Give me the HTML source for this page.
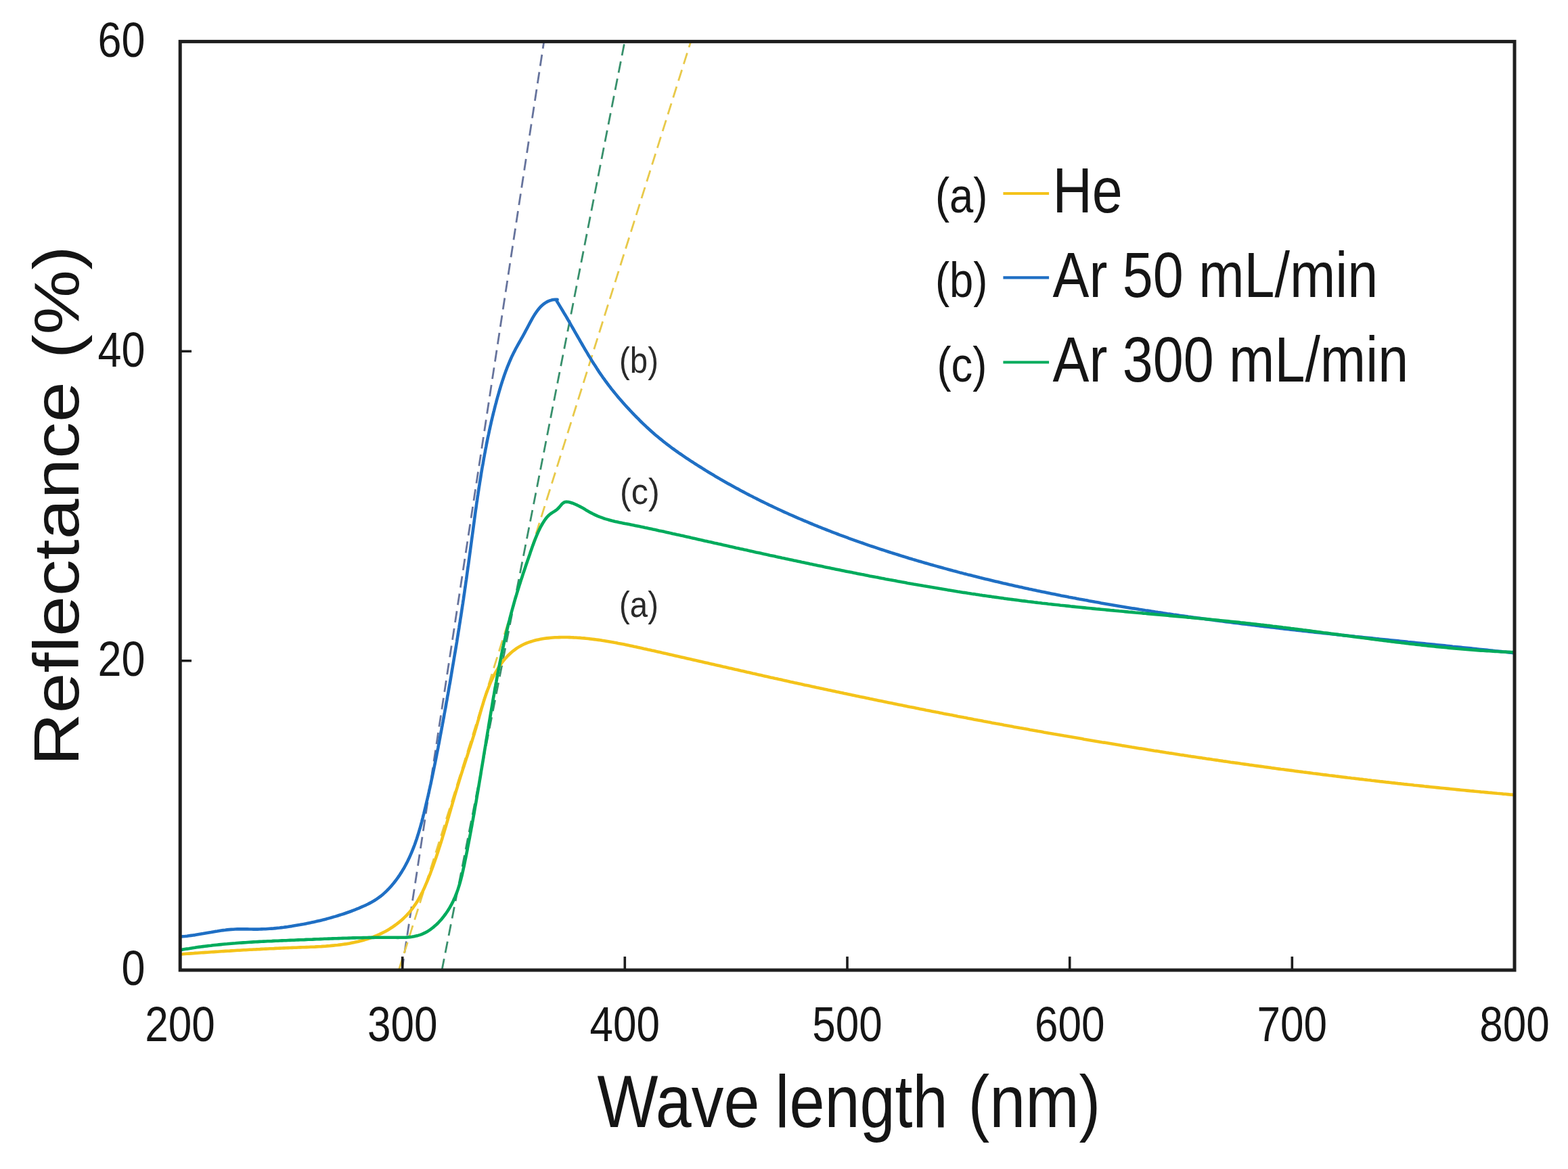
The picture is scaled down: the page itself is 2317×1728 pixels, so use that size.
<!DOCTYPE html>
<html><head><meta charset="utf-8"><title>Reflectance vs Wave length</title><style>html,body{margin:0;padding:0;background:#fff;}body{width:2317px;height:1728px;overflow:hidden;}svg{display:block;filter:blur(0.45px);}</style></head><body>
<svg width="2317" height="1728" viewBox="0 0 2317 1728" font-family="'Liberation Sans', Arial, sans-serif"><defs><clipPath id="pc"><rect x="266" y="62" width="1972" height="1372"/></clipPath></defs><rect x="0" y="0" width="2317" height="1728" fill="#ffffff"/><g clip-path="url(#pc)" stroke-width="2.8" fill="none" stroke-dasharray="17 9"><line x1="593.9" y1="1434" x2="803.7" y2="62" stroke="#66739c"/><line x1="653.0" y1="1434" x2="923.0" y2="62" stroke="#38906c"/><line x1="589.3" y1="1434" x2="1020.6" y2="62" stroke="#e8c94a"/></g><g fill="none" stroke-width="4.6" stroke-linejoin="round" stroke-linecap="round"><path d="M267.1,1410.5 L270.1,1410.3 L273.2,1410.0 L276.3,1409.8 L279.3,1409.6 L282.4,1409.4 L285.4,1409.2 L288.4,1408.9 L291.5,1408.7 L294.5,1408.5 L297.5,1408.3 L300.5,1408.1 L303.5,1407.9 L306.5,1407.7 L309.5,1407.5 L312.5,1407.3 L315.5,1407.1 L318.5,1406.9 L321.5,1406.7 L324.4,1406.5 L327.4,1406.3 L330.4,1406.1 L333.4,1405.9 L336.3,1405.7 L339.3,1405.6 L342.3,1405.4 L345.2,1405.2 L348.2,1405.0 L351.2,1404.8 L354.1,1404.7 L357.1,1404.5 L360.1,1404.3 L363.0,1404.2 L366.0,1404.0 L369.0,1403.8 L371.9,1403.7 L374.9,1403.5 L377.9,1403.4 L380.8,1403.2 L383.8,1403.1 L386.8,1402.9 L389.7,1402.8 L392.7,1402.6 L395.7,1402.5 L398.7,1402.3 L401.6,1402.2 L404.6,1402.1 L407.6,1401.9 L410.6,1401.8 L413.6,1401.6 L416.6,1401.5 L419.6,1401.4 L422.6,1401.3 L425.6,1401.1 L428.6,1401.0 L431.7,1400.9 L434.7,1400.8 L437.7,1400.7 L440.8,1400.5 L443.8,1400.4 L446.9,1400.3 L449.9,1400.2 L453.0,1400.1 L456.0,1400.0 L459.1,1399.8 L462.1,1399.7 L465.2,1399.6 L468.3,1399.4 L471.3,1399.2 L474.4,1399.1 L477.5,1398.9 L480.5,1398.7 L483.6,1398.4 L486.6,1398.2 L489.7,1397.9 L492.7,1397.6 L495.7,1397.3 L498.8,1397.0 L501.8,1396.6 L504.8,1396.2 L507.8,1395.8 L510.8,1395.4 L513.8,1394.9 L516.7,1394.4 L519.7,1393.8 L522.6,1393.2 L525.6,1392.6 L528.5,1392.0 L531.4,1391.2 L534.3,1390.5 L537.2,1389.7 L540.0,1388.9 L542.8,1388.0 L545.7,1387.1 L548.5,1386.1 L551.3,1385.1 L554.0,1384.0 L556.8,1382.9 L559.5,1381.7 L562.2,1380.4 L564.9,1379.1 L567.5,1377.8 L570.1,1376.4 L572.7,1374.9 L575.3,1373.4 L577.8,1371.8 L580.3,1370.2 L582.7,1368.5 L585.2,1366.7 L587.5,1364.9 L589.9,1363.1 L592.1,1361.2 L594.4,1359.2 L596.6,1357.2 L598.7,1355.2 L600.8,1353.1 L602.8,1350.9 L604.8,1348.7 L606.7,1346.4 L608.5,1344.1 L610.3,1341.8 L612.0,1339.3 L613.7,1336.9 L615.3,1334.4 L616.9,1331.9 L618.4,1329.3 L619.9,1326.7 L621.3,1324.1 L622.7,1321.4 L624.1,1318.7 L625.4,1316.0 L626.7,1313.2 L627.9,1310.5 L629.1,1307.7 L630.3,1304.9 L631.5,1302.1 L632.6,1299.3 L633.8,1296.4 L634.9,1293.6 L636.0,1290.8 L637.0,1287.9 L638.1,1285.1 L639.2,1282.2 L640.2,1279.4 L641.2,1276.5 L642.2,1273.7 L643.2,1270.8 L644.2,1268.0 L645.2,1265.1 L646.1,1262.2 L647.1,1259.4 L648.0,1256.5 L648.9,1253.6 L649.9,1250.7 L650.8,1247.9 L651.7,1245.0 L652.6,1242.1 L653.5,1239.2 L654.3,1236.3 L655.2,1233.5 L656.1,1230.6 L656.9,1227.7 L657.8,1224.8 L658.7,1221.9 L659.5,1219.1 L660.3,1216.2 L661.2,1213.3 L662.0,1210.4 L662.9,1207.5 L663.7,1204.6 L664.5,1201.8 L665.4,1198.9 L666.2,1196.0 L667.0,1193.1 L667.9,1190.2 L668.7,1187.4 L669.5,1184.5 L670.4,1181.6 L671.2,1178.8 L672.0,1175.9 L672.9,1173.0 L673.7,1170.2 L674.6,1167.3 L675.5,1164.4 L676.3,1161.6 L677.2,1158.7 L678.1,1155.9 L678.9,1153.0 L679.8,1150.2 L680.7,1147.4 L681.6,1144.5 L682.5,1141.7 L683.4,1138.8 L684.3,1136.0 L685.3,1133.2 L686.2,1130.3 L687.1,1127.5 L688.0,1124.7 L688.9,1121.8 L689.9,1119.0 L690.8,1116.2 L691.7,1113.3 L692.6,1110.5 L693.5,1107.6 L694.5,1104.8 L695.4,1101.9 L696.3,1099.1 L697.2,1096.2 L698.1,1093.3 L699.0,1090.4 L699.9,1087.6 L700.8,1084.7 L701.6,1081.8 L702.5,1078.9 L703.4,1076.0 L704.2,1073.0 L705.1,1070.1 L705.9,1067.2 L706.8,1064.2 L707.6,1061.3 L708.4,1058.3 L709.3,1055.4 L710.1,1052.4 L711.0,1049.5 L711.8,1046.5 L712.7,1043.6 L713.6,1040.7 L714.5,1037.7 L715.4,1034.8 L716.3,1031.9 L717.3,1029.0 L718.3,1026.1 L719.3,1023.3 L720.3,1020.4 L721.4,1017.6 L722.5,1014.8 L723.6,1012.0 L724.8,1009.2 L726.0,1006.4 L727.3,1003.7 L728.6,1001.0 L729.9,998.4 L731.3,995.7 L732.8,993.1 L734.3,990.6 L735.9,988.0 L737.5,985.5 L739.1,983.1 L740.8,980.7 L742.6,978.3 L744.4,976.1 L746.3,973.8 L748.2,971.7 L750.2,969.5 L752.3,967.5 L754.4,965.5 L756.5,963.6 L758.8,961.8 L761.1,960.1 L763.4,958.4 L765.8,956.9 L768.3,955.4 L770.8,954.0 L773.4,952.7 L776.0,951.5 L778.7,950.4 L781.5,949.4 L784.3,948.5 L787.1,947.6 L790.0,946.8 L792.9,946.1 L795.8,945.4 L798.8,944.8 L801.8,944.3 L804.8,943.8 L807.9,943.4 L810.9,943.1 L814.0,942.8 L817.0,942.5 L820.1,942.3 L823.2,942.2 L826.3,942.1 L829.4,942.0 L832.5,942.0 L835.5,942.0 L838.6,942.0 L841.7,942.1 L844.8,942.2 L847.8,942.4 L850.9,942.5 L853.9,942.7 L857.0,942.9 L860.0,943.2 L863.1,943.4 L866.1,943.7 L869.1,944.0 L872.1,944.4 L875.1,944.7 L878.1,945.1 L881.1,945.5 L884.1,945.9 L887.1,946.3 L890.0,946.8 L893.0,947.2 L896.0,947.7 L898.9,948.2 L901.9,948.7 L904.8,949.2 L907.8,949.8 L910.7,950.3 L913.6,950.9 L916.6,951.4 L919.5,952.0 L922.4,952.6 L925.4,953.2 L928.3,953.8 L931.2,954.4 L934.1,955.0 L937.1,955.7 L940.0,956.3 L942.9,956.9 L945.8,957.6 L948.7,958.2 L951.7,958.9 L954.6,959.5 L957.5,960.2 L960.4,960.8 L963.3,961.5 L966.2,962.1 L969.2,962.8 L972.1,963.4 L975.0,964.1 L977.9,964.8 L980.8,965.4 L983.8,966.1 L986.7,966.7 L989.6,967.4 L992.5,968.1 L995.4,968.7 L998.4,969.4 L1001.3,970.1 L1004.2,970.7 L1007.1,971.4 L1010.1,972.1 L1013.0,972.7 L1015.9,973.4 L1018.8,974.1 L1021.8,974.7 L1024.7,975.4 L1027.6,976.1 L1030.5,976.7 L1033.5,977.4 L1036.4,978.1 L1039.3,978.7 L1042.2,979.4 L1045.2,980.1 L1048.1,980.8 L1051.0,981.4 L1053.9,982.1 L1056.9,982.8 L1059.8,983.4 L1062.7,984.1 L1065.7,984.8 L1068.6,985.5 L1071.5,986.1 L1074.4,986.8 L1077.4,987.5 L1080.3,988.1 L1083.2,988.8 L1086.2,989.5 L1089.1,990.1 L1092.0,990.8 L1095.0,991.5 L1097.9,992.1 L1100.8,992.8 L1103.7,993.5 L1106.7,994.1 L1109.6,994.8 L1112.5,995.5 L1115.5,996.1 L1118.4,996.8 L1121.3,997.4 L1124.3,998.1 L1127.2,998.8 L1130.1,999.4 L1133.1,1000.1 L1136.0,1000.7 L1138.9,1001.4 L1141.9,1002.0 L1144.8,1002.7 L1147.7,1003.3 L1150.7,1004.0 L1153.6,1004.6 L1156.5,1005.3 L1159.5,1005.9 L1162.4,1006.6 L1165.4,1007.2 L1168.3,1007.9 L1171.2,1008.5 L1174.2,1009.2 L1177.1,1009.8 L1180.0,1010.4 L1183.0,1011.1 L1185.9,1011.7 L1188.8,1012.4 L1191.8,1013.0 L1194.7,1013.6 L1197.7,1014.3 L1200.6,1014.9 L1203.5,1015.5 L1206.5,1016.2 L1209.4,1016.8 L1212.3,1017.4 L1215.3,1018.1 L1218.2,1018.7 L1221.2,1019.3 L1224.1,1020.0 L1227.0,1020.6 L1230.0,1021.2 L1232.9,1021.8 L1235.9,1022.5 L1238.8,1023.1 L1241.7,1023.7 L1244.7,1024.3 L1247.6,1025.0 L1250.6,1025.6 L1253.5,1026.2 L1256.4,1026.8 L1259.4,1027.4 L1262.3,1028.1 L1265.3,1028.7 L1268.2,1029.3 L1271.2,1029.9 L1274.1,1030.5 L1277.0,1031.1 L1280.0,1031.7 L1282.9,1032.3 L1285.9,1033.0 L1288.8,1033.6 L1291.8,1034.2 L1294.7,1034.8 L1297.6,1035.4 L1300.6,1036.0 L1303.5,1036.6 L1306.5,1037.2 L1309.4,1037.8 L1312.4,1038.4 L1315.3,1039.0 L1318.3,1039.6 L1321.2,1040.2 L1324.1,1040.8 L1327.1,1041.4 L1330.0,1042.0 L1333.0,1042.6 L1335.9,1043.2 L1338.9,1043.8 L1341.8,1044.4 L1344.8,1045.0 L1347.7,1045.5 L1350.7,1046.1 L1353.6,1046.7 L1356.6,1047.3 L1359.5,1047.9 L1362.5,1048.5 L1365.4,1049.1 L1368.4,1049.7 L1371.3,1050.2 L1374.2,1050.8 L1377.2,1051.4 L1380.1,1052.0 L1383.1,1052.6 L1386.0,1053.1 L1389.0,1053.7 L1391.9,1054.3 L1394.9,1054.9 L1397.8,1055.4 L1400.8,1056.0 L1403.7,1056.6 L1406.7,1057.1 L1409.6,1057.7 L1412.6,1058.3 L1415.5,1058.9 L1418.5,1059.4 L1421.5,1060.0 L1424.4,1060.6 L1427.4,1061.1 L1430.3,1061.7 L1433.3,1062.2 L1436.2,1062.8 L1439.2,1063.4 L1442.1,1063.9 L1445.1,1064.5 L1448.0,1065.0 L1451.0,1065.6 L1453.9,1066.2 L1456.9,1066.7 L1459.8,1067.3 L1462.8,1067.8 L1465.7,1068.4 L1468.7,1068.9 L1471.7,1069.5 L1474.6,1070.0 L1477.6,1070.6 L1480.5,1071.1 L1483.5,1071.7 L1486.4,1072.2 L1489.4,1072.7 L1492.3,1073.3 L1495.3,1073.8 L1498.3,1074.4 L1501.2,1074.9 L1504.2,1075.4 L1507.1,1076.0 L1510.1,1076.5 L1513.0,1077.1 L1516.0,1077.6 L1519.0,1078.1 L1521.9,1078.7 L1524.9,1079.2 L1527.8,1079.7 L1530.8,1080.2 L1533.7,1080.8 L1536.7,1081.3 L1539.7,1081.8 L1542.6,1082.4 L1545.6,1082.9 L1548.5,1083.4 L1551.5,1083.9 L1554.5,1084.4 L1557.4,1085.0 L1560.4,1085.5 L1563.3,1086.0 L1566.3,1086.5 L1569.3,1087.0 L1572.2,1087.6 L1575.2,1088.1 L1578.1,1088.6 L1581.1,1089.1 L1584.1,1089.6 L1587.0,1090.1 L1590.0,1090.6 L1592.9,1091.1 L1595.9,1091.6 L1598.9,1092.1 L1601.8,1092.7 L1604.8,1093.2 L1607.8,1093.7 L1610.7,1094.2 L1613.7,1094.7 L1616.6,1095.2 L1619.6,1095.7 L1622.6,1096.2 L1625.5,1096.7 L1628.5,1097.2 L1631.5,1097.6 L1634.4,1098.1 L1637.4,1098.6 L1640.3,1099.1 L1643.3,1099.6 L1646.3,1100.1 L1649.2,1100.6 L1652.2,1101.1 L1655.2,1101.6 L1658.1,1102.1 L1661.1,1102.5 L1664.1,1103.0 L1667.0,1103.5 L1670.0,1104.0 L1673.0,1104.5 L1675.9,1104.9 L1678.9,1105.4 L1681.9,1105.9 L1684.8,1106.4 L1687.8,1106.8 L1690.8,1107.3 L1693.7,1107.8 L1696.7,1108.3 L1699.7,1108.7 L1702.6,1109.2 L1705.6,1109.7 L1708.6,1110.1 L1711.5,1110.6 L1714.5,1111.1 L1717.5,1111.5 L1720.4,1112.0 L1723.4,1112.5 L1726.4,1112.9 L1729.4,1113.4 L1732.3,1113.8 L1735.3,1114.3 L1738.3,1114.7 L1741.2,1115.2 L1744.2,1115.7 L1747.2,1116.1 L1750.1,1116.6 L1753.1,1117.0 L1756.1,1117.5 L1759.1,1117.9 L1762.0,1118.4 L1765.0,1118.8 L1768.0,1119.3 L1770.9,1119.7 L1773.9,1120.1 L1776.9,1120.6 L1779.9,1121.0 L1782.8,1121.5 L1785.8,1121.9 L1788.8,1122.3 L1791.7,1122.8 L1794.7,1123.2 L1797.7,1123.6 L1800.7,1124.1 L1803.6,1124.5 L1806.6,1124.9 L1809.6,1125.4 L1812.6,1125.8 L1815.5,1126.2 L1818.5,1126.7 L1821.5,1127.1 L1824.5,1127.5 L1827.4,1127.9 L1830.4,1128.3 L1833.4,1128.8 L1836.4,1129.2 L1839.3,1129.6 L1842.3,1130.0 L1845.3,1130.4 L1848.3,1130.9 L1851.2,1131.3 L1854.2,1131.7 L1857.2,1132.1 L1860.2,1132.5 L1863.1,1132.9 L1866.1,1133.3 L1869.1,1133.7 L1872.1,1134.1 L1875.0,1134.5 L1878.0,1134.9 L1881.0,1135.4 L1884.0,1135.8 L1886.9,1136.2 L1889.9,1136.6 L1892.9,1137.0 L1895.9,1137.3 L1898.9,1137.7 L1901.8,1138.1 L1904.8,1138.5 L1907.8,1138.9 L1910.8,1139.3 L1913.8,1139.7 L1916.7,1140.1 L1919.7,1140.5 L1922.7,1140.9 L1925.7,1141.3 L1928.7,1141.6 L1931.6,1142.0 L1934.6,1142.4 L1937.6,1142.8 L1940.6,1143.2 L1943.6,1143.5 L1946.5,1143.9 L1949.5,1144.3 L1952.5,1144.7 L1955.5,1145.1 L1958.5,1145.4 L1961.4,1145.8 L1964.4,1146.2 L1967.4,1146.5 L1970.4,1146.9 L1973.4,1147.3 L1976.3,1147.6 L1979.3,1148.0 L1982.3,1148.4 L1985.3,1148.7 L1988.3,1149.1 L1991.3,1149.5 L1994.2,1149.8 L1997.2,1150.2 L2000.2,1150.5 L2003.2,1150.9 L2006.2,1151.2 L2009.2,1151.6 L2012.1,1151.9 L2015.1,1152.3 L2018.1,1152.6 L2021.1,1153.0 L2024.1,1153.3 L2027.1,1153.7 L2030.1,1154.0 L2033.0,1154.4 L2036.0,1154.7 L2039.0,1155.1 L2042.0,1155.4 L2045.0,1155.7 L2048.0,1156.1 L2050.9,1156.4 L2053.9,1156.7 L2056.9,1157.1 L2059.9,1157.4 L2062.9,1157.7 L2065.9,1158.1 L2068.9,1158.4 L2071.9,1158.7 L2074.8,1159.1 L2077.8,1159.4 L2080.8,1159.7 L2083.8,1160.0 L2086.8,1160.3 L2089.8,1160.7 L2092.8,1161.0 L2095.8,1161.3 L2098.7,1161.6 L2101.7,1161.9 L2104.7,1162.3 L2107.7,1162.6 L2110.7,1162.9 L2113.7,1163.2 L2116.7,1163.5 L2119.7,1163.8 L2122.6,1164.1 L2125.6,1164.4 L2128.6,1164.7 L2131.6,1165.0 L2134.6,1165.3 L2137.6,1165.6 L2140.6,1165.9 L2143.6,1166.2 L2146.6,1166.5 L2149.6,1166.8 L2152.5,1167.1 L2155.5,1167.4 L2158.5,1167.7 L2161.5,1168.0 L2164.5,1168.3 L2167.5,1168.6 L2170.5,1168.9 L2173.5,1169.2 L2176.5,1169.4 L2179.5,1169.7 L2182.5,1170.0 L2185.5,1170.3 L2188.4,1170.6 L2191.4,1170.8 L2194.4,1171.1 L2197.4,1171.4 L2200.4,1171.7 L2203.4,1171.9 L2206.4,1172.2 L2209.4,1172.5 L2212.4,1172.8 L2215.4,1173.0 L2218.4,1173.3 L2221.4,1173.6 L2224.4,1173.8 L2227.4,1174.1 L2230.4,1174.4 L2233.3,1174.6 L2236.3,1174.9" stroke="#f4c31a"/><path d="M267.2,1384.5 L270.2,1384.2 L273.2,1384.0 L276.2,1383.7 L279.2,1383.3 L282.2,1382.9 L285.2,1382.5 L288.2,1382.1 L291.2,1381.6 L294.1,1381.1 L297.1,1380.6 L300.1,1380.1 L303.1,1379.5 L306.0,1379.0 L309.0,1378.5 L312.0,1378.0 L315.0,1377.4 L317.9,1376.9 L320.9,1376.5 L323.9,1376.0 L326.8,1375.5 L329.8,1375.1 L332.8,1374.8 L335.8,1374.4 L338.7,1374.1 L341.7,1373.9 L344.7,1373.7 L347.7,1373.5 L350.7,1373.4 L353.7,1373.4 L356.6,1373.3 L359.6,1373.4 L362.6,1373.4 L365.6,1373.4 L368.6,1373.5 L371.6,1373.5 L374.6,1373.6 L377.6,1373.6 L380.5,1373.6 L383.5,1373.5 L386.5,1373.4 L389.5,1373.3 L392.4,1373.2 L395.4,1373.0 L398.4,1372.8 L401.3,1372.6 L404.3,1372.4 L407.3,1372.1 L410.2,1371.8 L413.2,1371.5 L416.1,1371.1 L419.1,1370.8 L422.1,1370.4 L425.0,1370.0 L428.0,1369.5 L430.9,1369.1 L433.9,1368.6 L436.8,1368.1 L439.8,1367.6 L442.8,1367.1 L445.7,1366.5 L448.7,1366.0 L451.6,1365.4 L454.6,1364.8 L457.6,1364.2 L460.5,1363.6 L463.5,1362.9 L466.4,1362.3 L469.4,1361.6 L472.4,1360.9 L475.3,1360.2 L478.3,1359.4 L481.2,1358.7 L484.1,1357.9 L487.1,1357.1 L490.0,1356.3 L492.9,1355.4 L495.8,1354.6 L498.7,1353.7 L501.6,1352.8 L504.5,1351.9 L507.4,1351.0 L510.3,1350.0 L513.1,1349.0 L516.0,1348.0 L518.8,1347.0 L521.6,1345.9 L524.4,1344.8 L527.2,1343.7 L530.0,1342.6 L532.7,1341.4 L535.5,1340.2 L538.2,1339.0 L540.9,1337.8 L543.6,1336.5 L546.2,1335.1 L548.8,1333.7 L551.4,1332.2 L553.9,1330.7 L556.4,1329.1 L558.9,1327.4 L561.3,1325.6 L563.7,1323.8 L566.0,1321.9 L568.2,1319.9 L570.4,1317.8 L572.6,1315.7 L574.7,1313.5 L576.8,1311.2 L578.8,1308.9 L580.8,1306.6 L582.7,1304.2 L584.6,1301.8 L586.4,1299.4 L588.2,1296.9 L589.9,1294.4 L591.5,1291.9 L593.2,1289.4 L594.7,1286.8 L596.3,1284.3 L597.8,1281.6 L599.2,1279.0 L600.6,1276.4 L602.0,1273.7 L603.3,1271.0 L604.6,1268.3 L605.8,1265.6 L607.0,1262.9 L608.2,1260.1 L609.3,1257.4 L610.4,1254.6 L611.5,1251.8 L612.6,1249.0 L613.6,1246.2 L614.6,1243.3 L615.6,1240.5 L616.5,1237.6 L617.4,1234.8 L618.3,1231.9 L619.2,1229.0 L620.0,1226.1 L620.9,1223.2 L621.7,1220.3 L622.5,1217.4 L623.3,1214.5 L624.0,1211.6 L624.8,1208.6 L625.5,1205.7 L626.3,1202.8 L627.0,1199.8 L627.7,1196.9 L628.4,1194.0 L629.1,1191.0 L629.8,1188.1 L630.5,1185.1 L631.2,1182.2 L631.9,1179.3 L632.6,1176.3 L633.2,1173.4 L633.9,1170.4 L634.5,1167.5 L635.2,1164.5 L635.8,1161.6 L636.5,1158.7 L637.1,1155.7 L637.7,1152.8 L638.4,1149.8 L639.0,1146.9 L639.6,1143.9 L640.2,1141.0 L640.8,1138.0 L641.4,1135.1 L642.0,1132.1 L642.6,1129.2 L643.2,1126.2 L643.8,1123.3 L644.4,1120.3 L645.0,1117.4 L645.5,1114.4 L646.1,1111.5 L646.7,1108.5 L647.3,1105.6 L647.8,1102.6 L648.4,1099.7 L649.0,1096.7 L649.5,1093.8 L650.1,1090.8 L650.6,1087.9 L651.2,1084.9 L651.7,1082.0 L652.3,1079.0 L652.8,1076.0 L653.4,1073.1 L653.9,1070.1 L654.5,1067.2 L655.0,1064.2 L655.6,1061.3 L656.1,1058.3 L656.6,1055.3 L657.2,1052.4 L657.7,1049.4 L658.3,1046.5 L658.8,1043.5 L659.3,1040.5 L659.8,1037.6 L660.4,1034.6 L660.9,1031.7 L661.4,1028.7 L662.0,1025.7 L662.5,1022.8 L663.0,1019.8 L663.5,1016.9 L664.0,1013.9 L664.6,1010.9 L665.1,1008.0 L665.6,1005.0 L666.1,1002.0 L666.6,999.1 L667.1,996.1 L667.6,993.1 L668.1,990.2 L668.6,987.2 L669.1,984.2 L669.6,981.3 L670.1,978.3 L670.6,975.3 L671.1,972.4 L671.6,969.4 L672.1,966.4 L672.6,963.5 L673.1,960.5 L673.6,957.5 L674.1,954.6 L674.6,951.6 L675.1,948.6 L675.5,945.7 L676.0,942.7 L676.5,939.7 L677.0,936.7 L677.4,933.8 L677.9,930.8 L678.4,927.8 L678.8,924.8 L679.3,921.9 L679.8,918.9 L680.2,915.9 L680.7,912.9 L681.2,910.0 L681.6,907.0 L682.1,904.0 L682.5,901.0 L683.0,898.0 L683.4,895.1 L683.9,892.1 L684.3,889.1 L684.8,886.1 L685.2,883.1 L685.6,880.2 L686.1,877.2 L686.5,874.2 L686.9,871.2 L687.4,868.2 L687.8,865.3 L688.2,862.3 L688.6,859.3 L689.1,856.3 L689.5,853.3 L689.9,850.3 L690.3,847.3 L690.7,844.4 L691.1,841.4 L691.5,838.4 L692.0,835.4 L692.4,832.4 L692.8,829.4 L693.2,826.4 L693.6,823.4 L694.0,820.4 L694.4,817.5 L694.8,814.5 L695.2,811.5 L695.6,808.5 L696.0,805.5 L696.4,802.5 L696.8,799.5 L697.2,796.5 L697.6,793.5 L698.0,790.5 L698.4,787.6 L698.8,784.6 L699.2,781.6 L699.6,778.6 L700.0,775.6 L700.4,772.6 L700.8,769.6 L701.2,766.6 L701.6,763.6 L702.0,760.7 L702.4,757.7 L702.8,754.7 L703.3,751.7 L703.7,748.7 L704.1,745.7 L704.5,742.7 L705.0,739.8 L705.4,736.8 L705.8,733.8 L706.3,730.8 L706.7,727.8 L707.2,724.9 L707.6,721.9 L708.1,718.9 L708.6,715.9 L709.0,713.0 L709.5,710.0 L710.0,707.0 L710.5,704.0 L710.9,701.1 L711.4,698.1 L711.9,695.1 L712.4,692.2 L712.9,689.2 L713.5,686.2 L714.0,683.3 L714.5,680.3 L715.0,677.3 L715.6,674.4 L716.1,671.4 L716.7,668.5 L717.2,665.5 L717.8,662.6 L718.4,659.6 L718.9,656.7 L719.5,653.7 L720.1,650.8 L720.7,647.8 L721.3,644.9 L722.0,641.9 L722.6,639.0 L723.2,636.0 L723.9,633.1 L724.5,630.2 L725.2,627.2 L725.8,624.3 L726.5,621.4 L727.2,618.5 L727.9,615.5 L728.6,612.6 L729.3,609.7 L730.1,606.8 L730.8,603.9 L731.5,601.0 L732.3,598.0 L733.1,595.1 L733.8,592.2 L734.6,589.3 L735.4,586.4 L736.3,583.5 L737.1,580.6 L737.9,577.7 L738.8,574.8 L739.6,572.0 L740.5,569.1 L741.4,566.2 L742.3,563.4 L743.3,560.5 L744.2,557.7 L745.2,554.8 L746.2,552.0 L747.2,549.2 L748.3,546.4 L749.3,543.6 L750.4,540.8 L751.6,538.0 L752.7,535.3 L753.9,532.5 L755.1,529.8 L756.3,527.1 L757.6,524.4 L758.9,521.8 L760.3,519.1 L761.6,516.5 L763.0,513.8 L764.5,511.2 L765.9,508.6 L767.4,506.0 L768.9,503.4 L770.4,500.7 L771.9,498.1 L773.4,495.4 L774.9,492.7 L776.3,489.9 L777.8,487.2 L779.3,484.4 L780.8,481.5 L782.3,478.7 L783.8,475.9 L785.3,473.1 L786.8,470.4 L788.4,467.7 L790.0,465.1 L791.7,462.5 L793.4,460.1 L795.2,457.7 L797.0,455.5 L798.9,453.4 L800.9,451.5 L803.0,449.7 L805.2,448.1 L807.5,446.6 L809.9,445.4 L812.4,444.4 L815.0,443.6 L817.7,443.0 L820.6,442.7 L823.6,442.7 L822.7,445.0 L824.3,447.5 L825.9,450.1 L827.4,452.6 L828.9,455.1 L830.5,457.7 L832.0,460.2 L833.5,462.8 L835.0,465.3 L836.6,467.9 L838.1,470.5 L839.6,473.1 L841.1,475.7 L842.5,478.2 L844.0,480.8 L845.5,483.4 L847.0,486.0 L848.5,488.6 L850.0,491.3 L851.5,493.9 L853.0,496.5 L854.5,499.1 L856.0,501.7 L857.5,504.3 L859.0,506.9 L860.5,509.5 L862.0,512.1 L863.5,514.7 L865.0,517.3 L866.6,519.9 L868.1,522.4 L869.6,525.0 L871.2,527.6 L872.8,530.1 L874.3,532.7 L875.9,535.2 L877.5,537.8 L879.2,540.3 L880.8,542.8 L882.4,545.4 L884.1,547.9 L885.7,550.4 L887.4,552.8 L889.1,555.3 L890.8,557.8 L892.6,560.2 L894.3,562.6 L896.1,565.0 L897.9,567.5 L899.7,569.8 L901.5,572.2 L903.3,574.6 L905.2,576.9 L907.1,579.3 L909.0,581.6 L910.9,583.9 L912.8,586.2 L914.7,588.5 L916.7,590.7 L918.7,593.0 L920.6,595.2 L922.6,597.5 L924.6,599.7 L926.6,601.9 L928.7,604.1 L930.7,606.3 L932.8,608.5 L934.8,610.7 L936.9,612.8 L939.0,615.0 L941.1,617.1 L943.2,619.2 L945.3,621.4 L947.4,623.5 L949.6,625.6 L951.7,627.6 L953.9,629.7 L956.1,631.8 L958.3,633.8 L960.5,635.8 L962.7,637.8 L965.0,639.8 L967.2,641.8 L969.5,643.7 L971.8,645.6 L974.1,647.5 L976.5,649.4 L978.8,651.3 L981.1,653.2 L983.5,655.0 L985.9,656.9 L988.3,658.7 L990.7,660.5 L993.1,662.3 L995.5,664.0 L998.0,665.8 L1000.4,667.5 L1002.9,669.3 L1005.4,671.0 L1007.8,672.7 L1010.3,674.4 L1012.8,676.1 L1015.3,677.8 L1017.8,679.4 L1020.3,681.1 L1022.9,682.7 L1025.4,684.4 L1027.9,686.0 L1030.5,687.6 L1033.0,689.2 L1035.5,690.8 L1038.1,692.4 L1040.6,694.0 L1043.2,695.6 L1045.8,697.2 L1048.3,698.7 L1050.9,700.3 L1053.5,701.8 L1056.1,703.4 L1058.7,704.9 L1061.3,706.4 L1063.8,707.9 L1066.5,709.4 L1069.1,710.9 L1071.7,712.4 L1074.3,713.9 L1076.9,715.4 L1079.5,716.8 L1082.1,718.3 L1084.8,719.8 L1087.4,721.2 L1090.1,722.6 L1092.7,724.1 L1095.3,725.5 L1098.0,726.9 L1100.6,728.3 L1103.3,729.7 L1106.0,731.1 L1108.6,732.5 L1111.3,733.8 L1114.0,735.2 L1116.7,736.5 L1119.3,737.9 L1122.0,739.2 L1124.7,740.6 L1127.4,741.9 L1130.1,743.2 L1132.8,744.5 L1135.5,745.9 L1138.2,747.2 L1140.9,748.4 L1143.6,749.7 L1146.4,751.0 L1149.1,752.3 L1151.8,753.5 L1154.5,754.8 L1157.3,756.1 L1160.0,757.3 L1162.8,758.5 L1165.5,759.8 L1168.2,761.0 L1171.0,762.2 L1173.7,763.4 L1176.5,764.6 L1179.2,765.8 L1182.0,767.0 L1184.8,768.2 L1187.5,769.4 L1190.3,770.5 L1193.1,771.7 L1195.9,772.9 L1198.6,774.0 L1201.4,775.2 L1204.2,776.3 L1207.0,777.4 L1209.8,778.6 L1212.6,779.7 L1215.4,780.8 L1218.2,781.9 L1221.0,783.0 L1223.8,784.1 L1226.6,785.2 L1229.4,786.3 L1232.2,787.4 L1235.0,788.4 L1237.8,789.5 L1240.6,790.6 L1243.4,791.6 L1246.3,792.7 L1249.1,793.7 L1251.9,794.7 L1254.7,795.8 L1257.6,796.8 L1260.4,797.8 L1263.2,798.8 L1266.1,799.9 L1268.9,800.9 L1271.8,801.9 L1274.6,802.8 L1277.5,803.8 L1280.3,804.8 L1283.1,805.8 L1286.0,806.8 L1288.8,807.7 L1291.7,808.7 L1294.6,809.7 L1297.4,810.6 L1300.3,811.6 L1303.1,812.5 L1306.0,813.4 L1308.9,814.4 L1311.7,815.3 L1314.6,816.2 L1317.5,817.1 L1320.3,818.0 L1323.2,818.9 L1326.1,819.8 L1329.0,820.7 L1331.8,821.6 L1334.7,822.5 L1337.6,823.4 L1340.5,824.3 L1343.3,825.2 L1346.2,826.0 L1349.1,826.9 L1352.0,827.7 L1354.9,828.6 L1357.8,829.5 L1360.7,830.3 L1363.5,831.1 L1366.4,832.0 L1369.3,832.8 L1372.2,833.6 L1375.1,834.5 L1378.0,835.3 L1380.9,836.1 L1383.8,836.9 L1386.7,837.7 L1389.6,838.5 L1392.5,839.3 L1395.4,840.1 L1398.3,840.9 L1401.2,841.7 L1404.1,842.5 L1407.0,843.3 L1409.9,844.1 L1412.8,844.8 L1415.7,845.6 L1418.6,846.4 L1421.5,847.1 L1424.4,847.9 L1427.3,848.6 L1430.3,849.4 L1433.2,850.1 L1436.1,850.8 L1439.0,851.6 L1441.9,852.3 L1444.8,853.0 L1447.7,853.8 L1450.7,854.5 L1453.6,855.2 L1456.5,855.9 L1459.4,856.6 L1462.3,857.3 L1465.3,858.0 L1468.2,858.7 L1471.1,859.4 L1474.0,860.1 L1477.0,860.8 L1479.9,861.5 L1482.8,862.2 L1485.7,862.8 L1488.7,863.5 L1491.6,864.2 L1494.5,864.8 L1497.4,865.5 L1500.4,866.2 L1503.3,866.8 L1506.2,867.5 L1509.2,868.1 L1512.1,868.8 L1515.0,869.4 L1518.0,870.0 L1520.9,870.7 L1523.9,871.3 L1526.8,871.9 L1529.7,872.5 L1532.7,873.2 L1535.6,873.8 L1538.6,874.4 L1541.5,875.0 L1544.4,875.6 L1547.4,876.2 L1550.3,876.8 L1553.3,877.4 L1556.2,878.0 L1559.2,878.6 L1562.1,879.2 L1565.1,879.8 L1568.0,880.4 L1570.9,880.9 L1573.9,881.5 L1576.8,882.1 L1579.8,882.7 L1582.8,883.2 L1585.7,883.8 L1588.7,884.3 L1591.6,884.9 L1594.6,885.5 L1597.5,886.0 L1600.5,886.5 L1603.4,887.1 L1606.4,887.6 L1609.3,888.2 L1612.3,888.7 L1615.3,889.2 L1618.2,889.8 L1621.2,890.3 L1624.1,890.8 L1627.1,891.4 L1630.1,891.9 L1633.0,892.4 L1636.0,892.9 L1638.9,893.4 L1641.9,893.9 L1644.9,894.4 L1647.8,894.9 L1650.8,895.4 L1653.8,895.9 L1656.7,896.4 L1659.7,896.9 L1662.7,897.4 L1665.6,897.9 L1668.6,898.4 L1671.6,898.9 L1674.5,899.4 L1677.5,899.8 L1680.5,900.3 L1683.4,900.8 L1686.4,901.2 L1689.4,901.7 L1692.4,902.2 L1695.3,902.6 L1698.3,903.1 L1701.3,903.6 L1704.3,904.0 L1707.2,904.5 L1710.2,904.9 L1713.2,905.4 L1716.2,905.8 L1719.1,906.3 L1722.1,906.7 L1725.1,907.2 L1728.1,907.6 L1731.0,908.0 L1734.0,908.5 L1737.0,908.9 L1740.0,909.3 L1743.0,909.8 L1745.9,910.2 L1748.9,910.6 L1751.9,911.0 L1754.9,911.4 L1757.9,911.9 L1760.8,912.3 L1763.8,912.7 L1766.8,913.1 L1769.8,913.5 L1772.8,913.9 L1775.8,914.3 L1778.7,914.7 L1781.7,915.1 L1784.7,915.5 L1787.7,915.9 L1790.7,916.3 L1793.7,916.7 L1796.6,917.1 L1799.6,917.5 L1802.6,917.9 L1805.6,918.3 L1808.6,918.7 L1811.6,919.1 L1814.6,919.4 L1817.6,919.8 L1820.5,920.2 L1823.5,920.6 L1826.5,921.0 L1829.5,921.3 L1832.5,921.7 L1835.5,922.1 L1838.5,922.4 L1841.5,922.8 L1844.5,923.2 L1847.4,923.5 L1850.4,923.9 L1853.4,924.3 L1856.4,924.6 L1859.4,925.0 L1862.4,925.4 L1865.4,925.7 L1868.4,926.1 L1871.4,926.4 L1874.4,926.8 L1877.4,927.1 L1880.3,927.5 L1883.3,927.8 L1886.3,928.2 L1889.3,928.5 L1892.3,928.9 L1895.3,929.2 L1898.3,929.6 L1901.3,929.9 L1904.3,930.2 L1907.3,930.6 L1910.3,930.9 L1913.3,931.3 L1916.3,931.6 L1919.3,931.9 L1922.2,932.3 L1925.2,932.6 L1928.2,932.9 L1931.2,933.3 L1934.2,933.6 L1937.2,933.9 L1940.2,934.2 L1943.2,934.6 L1946.2,934.9 L1949.2,935.2 L1952.2,935.5 L1955.2,935.9 L1958.2,936.2 L1961.2,936.5 L1964.2,936.8 L1967.2,937.2 L1970.2,937.5 L1973.2,937.8 L1976.1,938.1 L1979.1,938.4 L1982.1,938.8 L1985.1,939.1 L1988.1,939.4 L1991.1,939.7 L1994.1,940.0 L1997.1,940.3 L2000.1,940.6 L2003.1,941.0 L2006.1,941.3 L2009.1,941.6 L2012.1,941.9 L2015.1,942.2 L2018.1,942.5 L2021.1,942.8 L2024.1,943.1 L2027.1,943.4 L2030.1,943.7 L2033.0,944.1 L2036.0,944.4 L2039.0,944.7 L2042.0,945.0 L2045.0,945.3 L2048.0,945.6 L2051.0,945.9 L2054.0,946.2 L2057.0,946.5 L2060.0,946.8 L2063.0,947.1 L2066.0,947.4 L2069.0,947.7 L2072.0,948.0 L2075.0,948.3 L2077.9,948.6 L2080.9,949.0 L2083.9,949.3 L2086.9,949.6 L2089.9,949.9 L2092.9,950.2 L2095.9,950.5 L2098.9,950.8 L2101.9,951.1 L2104.9,951.4 L2107.9,951.7 L2110.8,952.0 L2113.8,952.3 L2116.8,952.6 L2119.8,952.9 L2122.8,953.2 L2125.8,953.5 L2128.8,953.8 L2131.8,954.1 L2134.8,954.4 L2137.8,954.7 L2140.7,955.0 L2143.7,955.3 L2146.7,955.7 L2149.7,956.0 L2152.7,956.3 L2155.7,956.6 L2158.7,956.9 L2161.6,957.2 L2164.6,957.5 L2167.6,957.8 L2170.6,958.1 L2173.6,958.4 L2176.6,958.7 L2179.6,959.0 L2182.5,959.4 L2185.5,959.7 L2188.5,960.0 L2191.5,960.3 L2194.5,960.6 L2197.5,960.9 L2200.4,961.2 L2203.4,961.5 L2206.4,961.9 L2209.4,962.2 L2212.4,962.5 L2215.3,962.8 L2218.3,963.1 L2221.3,963.5 L2224.3,963.8 L2227.3,964.1 L2230.2,964.4 L2233.2,964.7 L2236.2,965.1" stroke="#1f6fc4"/><path d="M267.3,1404.2 L270.2,1403.6 L273.2,1403.1 L276.1,1402.6 L279.1,1402.2 L282.0,1401.7 L285.0,1401.2 L288.0,1400.8 L290.9,1400.3 L293.9,1399.9 L296.9,1399.5 L299.8,1399.1 L302.8,1398.7 L305.8,1398.4 L308.8,1398.0 L311.7,1397.7 L314.7,1397.3 L317.7,1397.0 L320.7,1396.7 L323.7,1396.4 L326.7,1396.1 L329.6,1395.8 L332.6,1395.5 L335.6,1395.3 L338.6,1395.0 L341.6,1394.7 L344.6,1394.5 L347.6,1394.3 L350.6,1394.0 L353.6,1393.8 L356.6,1393.6 L359.6,1393.4 L362.6,1393.2 L365.6,1393.0 L368.6,1392.8 L371.6,1392.6 L374.6,1392.4 L377.6,1392.3 L380.6,1392.1 L383.6,1391.9 L386.6,1391.8 L389.6,1391.6 L392.6,1391.5 L395.6,1391.3 L398.6,1391.2 L401.6,1391.1 L404.6,1390.9 L407.6,1390.8 L410.6,1390.7 L413.7,1390.5 L416.7,1390.4 L419.7,1390.3 L422.7,1390.2 L425.7,1390.0 L428.7,1389.9 L431.7,1389.8 L434.6,1389.7 L437.6,1389.5 L440.6,1389.4 L443.6,1389.3 L446.6,1389.2 L449.6,1389.1 L452.6,1388.9 L455.6,1388.8 L458.6,1388.7 L461.6,1388.6 L464.6,1388.4 L467.6,1388.3 L470.5,1388.2 L473.5,1388.1 L476.5,1388.0 L479.5,1387.8 L482.5,1387.7 L485.5,1387.6 L488.5,1387.5 L491.5,1387.4 L494.5,1387.3 L497.5,1387.2 L500.4,1387.1 L503.4,1387.0 L506.4,1386.9 L509.4,1386.8 L512.4,1386.7 L515.4,1386.6 L518.4,1386.5 L521.4,1386.4 L524.4,1386.4 L527.4,1386.3 L530.4,1386.2 L533.4,1386.2 L536.4,1386.1 L539.4,1386.0 L542.4,1386.0 L545.4,1385.9 L548.4,1385.9 L551.5,1385.9 L554.5,1385.8 L557.5,1385.8 L560.5,1385.8 L563.5,1385.8 L566.6,1385.8 L569.6,1385.8 L572.6,1385.8 L575.7,1385.8 L578.7,1385.8 L581.7,1385.8 L584.8,1385.8 L587.8,1385.9 L590.9,1385.8 L593.9,1385.8 L596.9,1385.7 L599.9,1385.6 L602.9,1385.4 L605.8,1385.1 L608.8,1384.7 L611.7,1384.2 L614.6,1383.6 L617.4,1382.9 L620.2,1382.1 L623.0,1381.1 L625.7,1379.9 L628.4,1378.6 L631.0,1377.2 L633.6,1375.6 L636.1,1373.9 L638.6,1372.0 L641.0,1370.1 L643.3,1368.1 L645.6,1366.0 L647.8,1363.8 L649.9,1361.5 L652.0,1359.2 L654.0,1356.8 L655.9,1354.4 L657.7,1352.0 L659.5,1349.5 L661.2,1347.0 L662.8,1344.5 L664.4,1341.9 L665.8,1339.4 L667.2,1336.8 L668.6,1334.2 L669.9,1331.5 L671.1,1328.8 L672.3,1326.1 L673.4,1323.4 L674.5,1320.7 L675.5,1317.9 L676.5,1315.2 L677.4,1312.4 L678.3,1309.5 L679.2,1306.7 L680.0,1303.9 L680.8,1301.0 L681.5,1298.1 L682.3,1295.2 L683.0,1292.3 L683.6,1289.3 L684.3,1286.4 L684.9,1283.4 L685.6,1280.5 L686.2,1277.5 L686.8,1274.6 L687.4,1271.6 L688.0,1268.7 L688.6,1265.7 L689.2,1262.7 L689.8,1259.8 L690.4,1256.8 L690.9,1253.8 L691.5,1250.9 L692.1,1247.9 L692.6,1245.0 L693.2,1242.0 L693.8,1239.0 L694.3,1236.1 L694.9,1233.1 L695.4,1230.2 L696.0,1227.2 L696.5,1224.2 L697.1,1221.3 L697.6,1218.3 L698.1,1215.4 L698.7,1212.4 L699.2,1209.4 L699.7,1206.5 L700.3,1203.5 L700.8,1200.6 L701.3,1197.6 L701.8,1194.7 L702.3,1191.7 L702.9,1188.7 L703.4,1185.8 L703.9,1182.8 L704.4,1179.9 L704.9,1176.9 L705.4,1173.9 L705.9,1171.0 L706.4,1168.0 L706.9,1165.1 L707.4,1162.1 L707.9,1159.1 L708.4,1156.2 L708.9,1153.2 L709.4,1150.3 L709.9,1147.3 L710.4,1144.4 L710.8,1141.4 L711.3,1138.4 L711.8,1135.5 L712.3,1132.5 L712.8,1129.6 L713.3,1126.6 L713.8,1123.6 L714.3,1120.7 L714.7,1117.7 L715.2,1114.8 L715.7,1111.8 L716.2,1108.8 L716.7,1105.9 L717.2,1102.9 L717.7,1099.9 L718.1,1097.0 L718.6,1094.0 L719.1,1091.1 L719.6,1088.1 L720.1,1085.1 L720.6,1082.2 L721.1,1079.2 L721.6,1076.3 L722.0,1073.3 L722.5,1070.3 L723.0,1067.4 L723.5,1064.4 L724.0,1061.4 L724.5,1058.5 L725.0,1055.5 L725.5,1052.5 L726.0,1049.6 L726.5,1046.6 L727.0,1043.6 L727.5,1040.7 L728.0,1037.7 L728.5,1034.7 L729.0,1031.8 L729.6,1028.8 L730.1,1025.9 L730.6,1022.9 L731.1,1019.9 L731.6,1017.0 L732.2,1014.0 L732.7,1011.0 L733.3,1008.1 L733.8,1005.1 L734.3,1002.2 L734.9,999.2 L735.4,996.2 L736.0,993.3 L736.6,990.3 L737.1,987.4 L737.7,984.4 L738.3,981.5 L738.9,978.5 L739.5,975.6 L740.1,972.6 L740.7,969.7 L741.3,966.7 L741.9,963.8 L742.5,960.8 L743.1,957.9 L743.8,955.0 L744.4,952.0 L745.0,949.1 L745.7,946.2 L746.4,943.2 L747.0,940.3 L747.7,937.4 L748.4,934.5 L749.1,931.5 L749.8,928.6 L750.5,925.7 L751.2,922.8 L751.9,919.9 L752.7,917.0 L753.4,914.1 L754.2,911.2 L754.9,908.3 L755.7,905.4 L756.5,902.5 L757.3,899.6 L758.1,896.7 L758.9,893.8 L759.7,890.9 L760.5,888.1 L761.3,885.2 L762.2,882.3 L763.1,879.4 L763.9,876.6 L764.8,873.7 L765.7,870.9 L766.6,868.0 L767.5,865.1 L768.4,862.3 L769.3,859.4 L770.2,856.6 L771.2,853.7 L772.1,850.9 L773.0,848.0 L774.0,845.2 L775.0,842.3 L775.9,839.5 L776.9,836.6 L777.8,833.8 L778.8,830.9 L779.8,828.1 L780.8,825.2 L781.8,822.3 L782.8,819.5 L783.7,816.6 L784.7,813.8 L785.7,810.9 L786.7,808.0 L787.8,805.2 L788.8,802.3 L789.9,799.5 L790.9,796.7 L792.1,793.8 L793.2,791.1 L794.4,788.3 L795.6,785.6 L796.9,782.9 L798.2,780.2 L799.6,777.6 L801.1,775.0 L802.6,772.4 L804.2,769.9 L805.9,767.5 L807.7,765.1 L809.6,763.0 L811.7,761.0 L813.9,759.2 L816.4,757.6 L818.8,756.1 L821.3,754.5 L823.6,752.7 L825.8,750.5 L827.8,748.1 L829.8,745.7 L831.9,743.7 L834.2,742.3 L836.9,741.8 L839.8,742.0 L842.8,742.7 L845.9,743.7 L848.8,744.9 L851.7,746.1 L854.5,747.5 L857.2,748.9 L859.9,750.3 L862.6,751.8 L865.2,753.4 L867.8,754.9 L870.4,756.4 L873.0,757.9 L875.6,759.3 L878.3,760.6 L881.0,761.9 L883.7,763.1 L886.4,764.2 L889.2,765.2 L892.0,766.2 L894.8,767.1 L897.7,767.9 L900.5,768.7 L903.4,769.5 L906.3,770.2 L909.2,770.9 L912.2,771.5 L915.1,772.2 L918.0,772.8 L921.0,773.4 L923.9,774.0 L926.9,774.5 L929.8,775.1 L932.8,775.7 L935.7,776.3 L938.7,776.9 L941.6,777.5 L944.5,778.1 L947.5,778.7 L950.4,779.3 L953.3,780.0 L956.3,780.6 L959.2,781.2 L962.2,781.8 L965.1,782.5 L968.0,783.1 L971.0,783.7 L973.9,784.4 L976.8,785.0 L979.7,785.6 L982.7,786.3 L985.6,786.9 L988.5,787.6 L991.5,788.2 L994.4,788.9 L997.3,789.5 L1000.2,790.2 L1003.2,790.8 L1006.1,791.5 L1009.0,792.1 L1011.9,792.8 L1014.9,793.4 L1017.8,794.1 L1020.7,794.8 L1023.6,795.4 L1026.6,796.1 L1029.5,796.7 L1032.4,797.4 L1035.3,798.1 L1038.3,798.7 L1041.2,799.4 L1044.1,800.0 L1047.0,800.7 L1050.0,801.3 L1052.9,802.0 L1055.8,802.7 L1058.8,803.3 L1061.7,804.0 L1064.6,804.6 L1067.5,805.3 L1070.5,805.9 L1073.4,806.6 L1076.3,807.2 L1079.3,807.9 L1082.2,808.6 L1085.1,809.2 L1088.0,809.9 L1091.0,810.5 L1093.9,811.2 L1096.8,811.8 L1099.8,812.5 L1102.7,813.1 L1105.6,813.8 L1108.6,814.4 L1111.5,815.1 L1114.4,815.7 L1117.4,816.4 L1120.3,817.0 L1123.2,817.6 L1126.2,818.3 L1129.1,818.9 L1132.0,819.6 L1135.0,820.2 L1137.9,820.9 L1140.8,821.5 L1143.8,822.1 L1146.7,822.8 L1149.6,823.4 L1152.6,824.0 L1155.5,824.7 L1158.5,825.3 L1161.4,825.9 L1164.3,826.6 L1167.3,827.2 L1170.2,827.8 L1173.1,828.5 L1176.1,829.1 L1179.0,829.7 L1182.0,830.3 L1184.9,831.0 L1187.8,831.6 L1190.8,832.2 L1193.7,832.8 L1196.7,833.5 L1199.6,834.1 L1202.5,834.7 L1205.5,835.3 L1208.4,835.9 L1211.4,836.5 L1214.3,837.1 L1217.3,837.8 L1220.2,838.4 L1223.1,839.0 L1226.1,839.6 L1229.0,840.2 L1232.0,840.8 L1234.9,841.4 L1237.9,842.0 L1240.8,842.6 L1243.8,843.2 L1246.7,843.8 L1249.6,844.4 L1252.6,845.0 L1255.5,845.5 L1258.5,846.1 L1261.4,846.7 L1264.4,847.3 L1267.3,847.9 L1270.3,848.5 L1273.2,849.1 L1276.2,849.6 L1279.1,850.2 L1282.1,850.8 L1285.0,851.4 L1288.0,851.9 L1290.9,852.5 L1293.9,853.1 L1296.8,853.6 L1299.8,854.2 L1302.7,854.8 L1305.7,855.3 L1308.6,855.9 L1311.6,856.4 L1314.5,857.0 L1317.5,857.5 L1320.5,858.1 L1323.4,858.6 L1326.4,859.2 L1329.3,859.7 L1332.3,860.3 L1335.2,860.8 L1338.2,861.3 L1341.1,861.9 L1344.1,862.4 L1347.1,862.9 L1350.0,863.5 L1353.0,864.0 L1355.9,864.5 L1358.9,865.0 L1361.9,865.5 L1364.8,866.1 L1367.8,866.6 L1370.7,867.1 L1373.7,867.6 L1376.7,868.1 L1379.6,868.6 L1382.6,869.1 L1385.6,869.6 L1388.5,870.1 L1391.5,870.6 L1394.4,871.1 L1397.4,871.6 L1400.4,872.1 L1403.3,872.5 L1406.3,873.0 L1409.3,873.5 L1412.2,874.0 L1415.2,874.5 L1418.2,874.9 L1421.1,875.4 L1424.1,875.9 L1427.1,876.3 L1430.0,876.8 L1433.0,877.2 L1436.0,877.7 L1438.9,878.1 L1441.9,878.6 L1444.9,879.0 L1447.9,879.5 L1450.8,879.9 L1453.8,880.4 L1456.8,880.8 L1459.7,881.2 L1462.7,881.6 L1465.7,882.1 L1468.7,882.5 L1471.6,882.9 L1474.6,883.3 L1477.6,883.7 L1480.6,884.1 L1483.5,884.6 L1486.5,885.0 L1489.5,885.4 L1492.5,885.7 L1495.4,886.1 L1498.4,886.5 L1501.4,886.9 L1504.4,887.3 L1507.4,887.7 L1510.3,888.1 L1513.3,888.4 L1516.3,888.8 L1519.3,889.2 L1522.3,889.5 L1525.2,889.9 L1528.2,890.3 L1531.2,890.6 L1534.2,891.0 L1537.2,891.3 L1540.2,891.7 L1543.1,892.0 L1546.1,892.3 L1549.1,892.7 L1552.1,893.0 L1555.1,893.4 L1558.1,893.7 L1561.1,894.0 L1564.0,894.3 L1567.0,894.7 L1570.0,895.0 L1573.0,895.3 L1576.0,895.6 L1579.0,895.9 L1582.0,896.3 L1584.9,896.6 L1587.9,896.9 L1590.9,897.2 L1593.9,897.5 L1596.9,897.8 L1599.9,898.1 L1602.9,898.4 L1605.9,898.7 L1608.9,899.0 L1611.9,899.3 L1614.8,899.6 L1617.8,899.9 L1620.8,900.2 L1623.8,900.4 L1626.8,900.7 L1629.8,901.0 L1632.8,901.3 L1635.8,901.6 L1638.8,901.9 L1641.8,902.2 L1644.8,902.4 L1647.7,902.7 L1650.7,903.0 L1653.7,903.3 L1656.7,903.5 L1659.7,903.8 L1662.7,904.1 L1665.7,904.4 L1668.7,904.7 L1671.7,904.9 L1674.7,905.2 L1677.7,905.5 L1680.7,905.7 L1683.7,906.0 L1686.7,906.3 L1689.7,906.6 L1692.6,906.8 L1695.6,907.1 L1698.6,907.4 L1701.6,907.6 L1704.6,907.9 L1707.6,908.2 L1710.6,908.5 L1713.6,908.7 L1716.6,909.0 L1719.6,909.3 L1722.6,909.5 L1725.6,909.8 L1728.6,910.1 L1731.6,910.4 L1734.6,910.6 L1737.5,910.9 L1740.5,911.2 L1743.5,911.5 L1746.5,911.7 L1749.5,912.0 L1752.5,912.3 L1755.5,912.6 L1758.5,912.8 L1761.5,913.1 L1764.5,913.4 L1767.5,913.7 L1770.5,914.0 L1773.5,914.3 L1776.4,914.5 L1779.4,914.8 L1782.4,915.1 L1785.4,915.4 L1788.4,915.7 L1791.4,916.0 L1794.4,916.3 L1797.4,916.6 L1800.4,916.9 L1803.4,917.2 L1806.4,917.5 L1809.3,917.8 L1812.3,918.1 L1815.3,918.4 L1818.3,918.7 L1821.3,919.0 L1824.3,919.3 L1827.3,919.6 L1830.3,919.9 L1833.3,920.3 L1836.2,920.6 L1839.2,920.9 L1842.2,921.2 L1845.2,921.5 L1848.2,921.9 L1851.2,922.2 L1854.2,922.5 L1857.1,922.9 L1860.1,923.2 L1863.1,923.6 L1866.1,923.9 L1869.1,924.2 L1872.1,924.6 L1875.1,924.9 L1878.0,925.3 L1881.0,925.7 L1884.0,926.0 L1887.0,926.4 L1890.0,926.7 L1893.0,927.1 L1895.9,927.5 L1898.9,927.8 L1901.9,928.2 L1904.9,928.6 L1907.9,929.0 L1910.8,929.3 L1913.8,929.7 L1916.8,930.1 L1919.8,930.5 L1922.8,930.9 L1925.7,931.3 L1928.7,931.6 L1931.7,932.0 L1934.7,932.4 L1937.7,932.8 L1940.6,933.2 L1943.6,933.6 L1946.6,934.0 L1949.6,934.4 L1952.5,934.8 L1955.5,935.2 L1958.5,935.5 L1961.5,935.9 L1964.5,936.3 L1967.4,936.7 L1970.4,937.1 L1973.4,937.5 L1976.4,937.9 L1979.3,938.3 L1982.3,938.7 L1985.3,939.1 L1988.3,939.5 L1991.3,939.9 L1994.2,940.3 L1997.2,940.7 L2000.2,941.1 L2003.2,941.5 L2006.1,941.9 L2009.1,942.3 L2012.1,942.7 L2015.1,943.0 L2018.1,943.4 L2021.0,943.8 L2024.0,944.2 L2027.0,944.6 L2030.0,945.0 L2033.0,945.4 L2035.9,945.7 L2038.9,946.1 L2041.9,946.5 L2044.9,946.9 L2047.9,947.3 L2050.8,947.6 L2053.8,948.0 L2056.8,948.4 L2059.8,948.7 L2062.8,949.1 L2065.7,949.5 L2068.7,949.8 L2071.7,950.2 L2074.7,950.5 L2077.7,950.9 L2080.7,951.2 L2083.6,951.6 L2086.6,951.9 L2089.6,952.3 L2092.6,952.6 L2095.6,953.0 L2098.6,953.3 L2101.5,953.6 L2104.5,954.0 L2107.5,954.3 L2110.5,954.6 L2113.5,954.9 L2116.5,955.2 L2119.5,955.5 L2122.5,955.9 L2125.4,956.2 L2128.4,956.5 L2131.4,956.8 L2134.4,957.0 L2137.4,957.3 L2140.4,957.6 L2143.4,957.9 L2146.4,958.2 L2149.4,958.5 L2152.4,958.7 L2155.4,959.0 L2158.4,959.2 L2161.3,959.5 L2164.3,959.7 L2167.3,960.0 L2170.3,960.2 L2173.3,960.5 L2176.3,960.7 L2179.3,960.9 L2182.3,961.1 L2185.3,961.4 L2188.3,961.6 L2191.3,961.8 L2194.3,962.0 L2197.3,962.2 L2200.3,962.3 L2203.3,962.5 L2206.3,962.7 L2209.3,962.9 L2212.4,963.0 L2215.4,963.2 L2218.4,963.4 L2221.4,963.5 L2224.4,963.6 L2227.4,963.8 L2230.4,963.9 L2233.4,964.0 L2236.4,964.1" stroke="#00ab5c"/></g><rect x="266.2" y="61.4" width="1971.8" height="1372.6" fill="none" stroke="#1e1e1e" stroke-width="5"/><path d="M594.7,1434 V1414 M923.3,1434 V1414 M1252.0,1434 V1414 M1580.7,1434 V1414 M1909.3,1434 V1414 M266,976.7 H283 M266,519.3 H283" stroke="#1c1c1c" stroke-width="3.6" fill="none"/><text transform="translate(266.0 1539.0) scale(0.868 1)" font-size="71.5" text-anchor="middle" fill="#151515">200</text><text transform="translate(594.7 1539.0) scale(0.868 1)" font-size="71.5" text-anchor="middle" fill="#151515">300</text><text transform="translate(923.3 1539.0) scale(0.868 1)" font-size="71.5" text-anchor="middle" fill="#151515">400</text><text transform="translate(1252.0 1539.0) scale(0.868 1)" font-size="71.5" text-anchor="middle" fill="#151515">500</text><text transform="translate(1580.7 1539.0) scale(0.868 1)" font-size="71.5" text-anchor="middle" fill="#151515">600</text><text transform="translate(1909.3 1539.0) scale(0.868 1)" font-size="71.5" text-anchor="middle" fill="#151515">700</text><text transform="translate(2238.0 1539.0) scale(0.868 1)" font-size="71.5" text-anchor="middle" fill="#151515">800</text><text transform="translate(214.5 1456.3) scale(0.880 1)" font-size="71.5" text-anchor="end" fill="#151515">0</text><text transform="translate(214.5 999.0) scale(0.880 1)" font-size="71.5" text-anchor="end" fill="#151515">20</text><text transform="translate(214.5 541.6) scale(0.880 1)" font-size="71.5" text-anchor="end" fill="#151515">40</text><text transform="translate(214.5 84.3) scale(0.880 1)" font-size="71.5" text-anchor="end" fill="#151515">60</text><text transform="translate(882.5 1665.5) scale(0.870 1)" font-size="109.5" text-anchor="start" fill="#151515">Wave</text><text transform="translate(1145.6 1665.5) scale(0.855 1)" font-size="109.5" text-anchor="start" fill="#151515">length</text><text transform="translate(1430.5 1665.5) scale(0.870 1)" font-size="109.5" text-anchor="start" fill="#151515">(nm)</text><text transform="translate(116 747.5) rotate(-90) scale(1 0.885)" font-size="107.5" text-anchor="middle" word-spacing="4" fill="#151515">Reflectance (%)</text><text transform="translate(1382.0 314.0) scale(0.880 1)" font-size="72.0" text-anchor="start" fill="#151515">(a)</text><line x1="1482.4" y1="286.0" x2="1550.1" y2="286.0" stroke="#f4c31a" stroke-width="4.2"/><text transform="translate(1555.5 313.5) scale(0.860 1)" font-size="94.0" text-anchor="start" fill="#151515">He</text><text transform="translate(1382.0 439.0) scale(0.880 1)" font-size="72.0" text-anchor="start" fill="#151515">(b)</text><line x1="1482.4" y1="410.4" x2="1550.1" y2="410.4" stroke="#1f6fc4" stroke-width="4.2"/><text transform="translate(1555.5 438.5) scale(0.860 1)" font-size="94.0" text-anchor="start" fill="#151515">Ar 50 mL/min</text><text transform="translate(1384.5 564.0) scale(0.880 1)" font-size="72.0" text-anchor="start" fill="#151515">(c)</text><line x1="1482.4" y1="535.5" x2="1550.1" y2="535.5" stroke="#00ab5c" stroke-width="4.2"/><text transform="translate(1555.5 563.5) scale(0.860 1)" font-size="94.0" text-anchor="start" fill="#151515">Ar 300 mL/min</text><text transform="translate(915.0 551.0) scale(0.886 1)" font-size="53.5" text-anchor="start" fill="#2a2a2a">(b)</text><text transform="translate(916.0 745.0) scale(0.940 1)" font-size="53.5" text-anchor="start" fill="#2a2a2a">(c)</text><text transform="translate(915.0 912.0) scale(0.886 1)" font-size="53.5" text-anchor="start" fill="#2a2a2a">(a)</text></svg>
</body></html>
